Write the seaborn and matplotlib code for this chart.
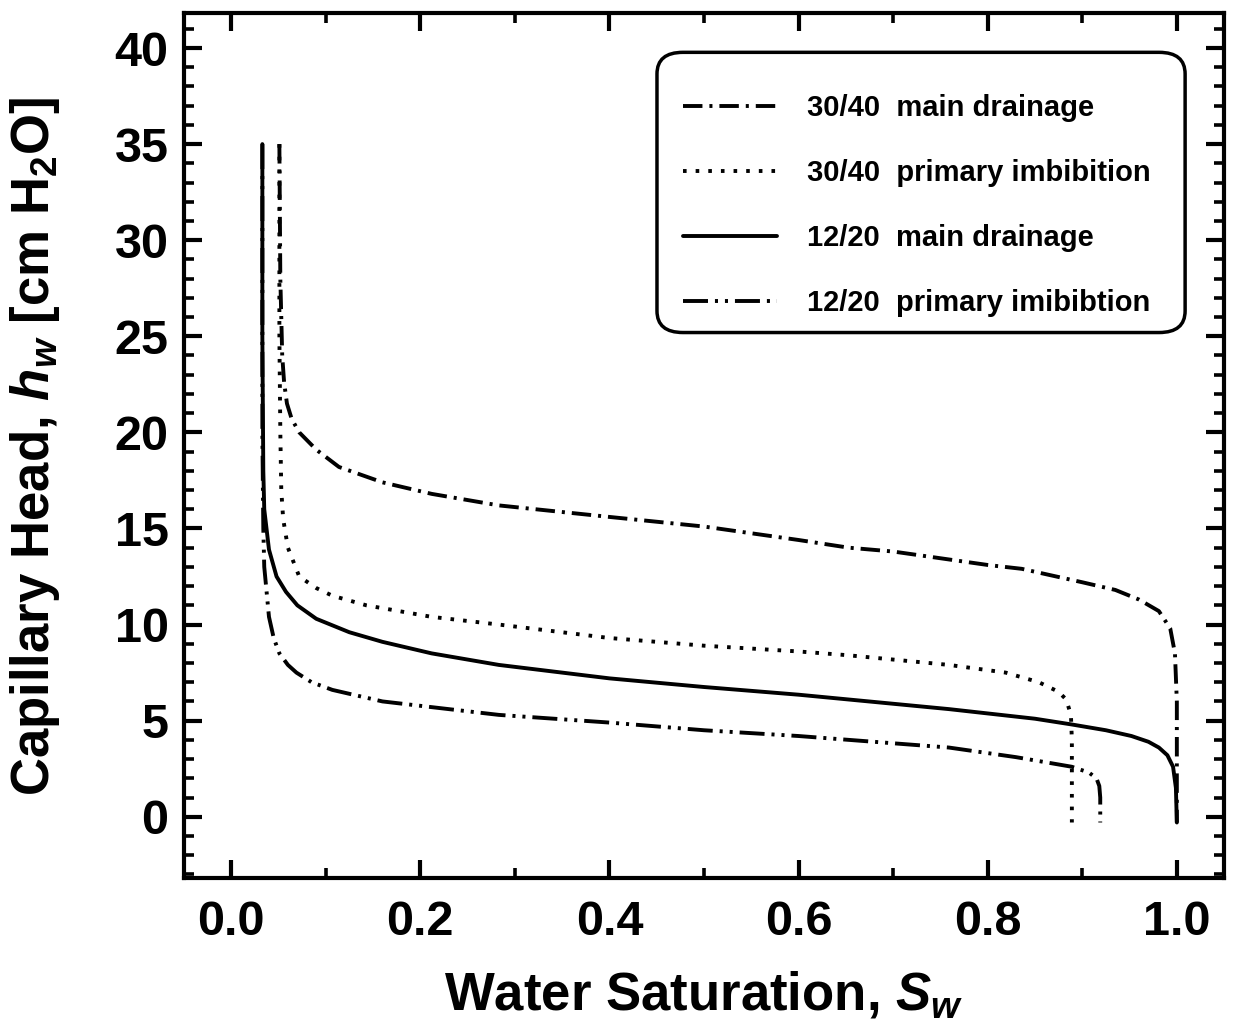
import matplotlib
matplotlib.use("Agg")
import matplotlib.pyplot as plt
from matplotlib.ticker import MultipleLocator, FormatStrFormatter
from matplotlib.patches import FancyBboxPatch
import seaborn as sns

# 30/40 sand, main drainage
sw_3040_drain = [0.051, 0.052, 0.054, 0.056, 0.059, 0.064, 0.072, 0.090, 0.114, 0.160,
                 0.212, 0.283, 0.400, 0.500, 0.600, 0.653, 0.700, 0.800, 0.836, 0.900,
                 0.935, 0.960, 0.981, 0.993, 0.998, 1.000, 1.000]
hw_3040_drain = [35.0, 28.0, 24.0, 22.6, 21.5, 20.7, 20.0, 19.1, 18.2, 17.4,
                 16.8, 16.2, 15.6, 15.1, 14.4, 14.0, 13.8, 13.1, 12.9, 12.2,
                 11.8, 11.3, 10.7, 9.8, 8.5, 6.0, -0.3]

# 30/40 sand, primary imbibition
sw_3040_imb = [0.051, 0.051, 0.052, 0.053, 0.055, 0.060, 0.072, 0.090, 0.107, 0.143,
               0.212, 0.283, 0.400, 0.500, 0.600, 0.653, 0.759, 0.819, 0.854, 0.875,
               0.883, 0.888, 0.889, 0.889]
hw_3040_imb = [35.0, 25.0, 20.0, 17.0, 15.5, 14.0, 12.5, 11.9, 11.5, 11.0,
               10.4, 10.0, 9.3, 8.9, 8.6, 8.4, 7.9, 7.5, 7.0, 6.5,
               6.1, 5.3, 4.0, -0.3]

# 12/20 sand, main drainage
sw_1220_drain = [0.033, 0.033, 0.034, 0.035, 0.040, 0.048, 0.058, 0.070, 0.090, 0.125,
                 0.160, 0.212, 0.283, 0.400, 0.500, 0.600, 0.653, 0.759, 0.850, 0.889,
                 0.925, 0.952, 0.970, 0.981, 0.990, 0.996, 0.999, 1.000]
hw_1220_drain = [35.0, 25.0, 18.0, 16.0, 13.9, 12.5, 11.7, 11.0, 10.3, 9.6,
                 9.1, 8.5, 7.9, 7.2, 6.75, 6.35, 6.1, 5.6, 5.1, 4.8,
                 4.5, 4.2, 3.9, 3.6, 3.2, 2.6, 1.5, -0.3]

# 12/20 sand, primary imbibition
sw_1220_imb = [0.033, 0.033, 0.034, 0.035, 0.040, 0.045, 0.051, 0.060, 0.069, 0.085,
               0.107, 0.160, 0.230, 0.283, 0.400, 0.500, 0.600, 0.653, 0.759, 0.830,
               0.889, 0.907, 0.915, 0.918, 0.919, 0.919]
hw_1220_imb = [35.0, 20.0, 15.0, 13.0, 10.4, 9.3, 8.5, 7.9, 7.5, 7.0,
               6.6, 6.0, 5.6, 5.3, 4.9, 4.5, 4.2, 4.0, 3.6, 3.1,
               2.6, 2.3, 2.0, 1.6, 1.0, -0.3]

legend_labels = ["30/40  main drainage", "30/40  primary imbibition",
                 "12/20  main drainage", "12/20  primary imibibtion"]

x_ticks = [0.0, 0.2, 0.4, 0.6, 0.8, 1.0]
y_ticks = [0, 5, 10, 15, 20, 25, 30, 35, 40]

sns.set_style("ticks")
plt.rcParams["font.family"] = ["Liberation Sans", "DejaVu Sans"]
plt.rcParams["font.weight"] = "bold"
plt.rcParams["mathtext.fontset"] = "custom"
plt.rcParams["mathtext.rm"] = "Liberation Sans:bold"
plt.rcParams["mathtext.it"] = "Liberation Sans:bold:italic"
plt.rcParams["mathtext.bf"] = "Liberation Sans:bold"
plt.rcParams["lines.scale_dashes"] = False
for key in ["text.color", "axes.labelcolor", "xtick.color", "ytick.color", "axes.edgecolor"]:
    plt.rcParams[key] = "black"

fig = plt.figure(figsize=(12.34, 10.32), dpi=100)
ax = fig.add_axes([0.149, 0.149, 0.843, 0.838])

lw = 2.8
styles = [
    (0, (14, 5, 2.2, 5)),                 # dash-dot
    (0, (2.6, 6.5)),                      # dotted
    "-",                                  # solid
    (0, (18, 5, 2.2, 5, 2.2, 5)),         # dash-dot-dot
]
series = [
    (sw_3040_drain, hw_3040_drain),
    (sw_3040_imb, hw_3040_imb),
    (sw_1220_drain, hw_1220_drain),
    (sw_1220_imb, hw_1220_imb),
]
for (xs, ys), ls, lab in zip(series, styles, legend_labels):
    sns.lineplot(x=xs, y=ys, sort=False, estimator=None, ax=ax, color="black",
                 linewidth=lw, linestyle=ls, label=lab)

ax.set_xlim(-0.05, 1.05)
ax.set_ylim(-3.2, 41.8)
ax.set_xticks(x_ticks)
ax.set_yticks(y_ticks)
ax.xaxis.set_major_formatter(FormatStrFormatter("%.1f"))
ax.xaxis.set_minor_locator(MultipleLocator(0.1))
ax.yaxis.set_minor_locator(MultipleLocator(1))

ax.tick_params(which="both", direction="in", top=True, right=True, color="black")
ax.tick_params(which="major", length=13, width=3, labelsize=35)
ax.tick_params(which="minor", length=7, width=2.6)
ax.tick_params(axis="x", which="major", pad=16)
ax.tick_params(axis="y", which="major", pad=11)
for lab in ax.get_xticklabels() + ax.get_yticklabels():
    lab.set_fontweight("bold")
for sp in ax.spines.values():
    sp.set_linewidth(3)
    sp.set_visible(True)
    sp.set_color("black")

ax.set_xlabel("Water Saturation, $S_w$", fontsize=38, fontweight="bold", labelpad=17)
ax.set_ylabel("Capillary Head, $h_w$ [cm H$_2$O]", fontsize=38, fontweight="bold", labelpad=38)

# rounded legend frame
box = FancyBboxPatch((0.4548, 0.631), 0.5077, 0.324, transform=ax.transAxes,
                     boxstyle="round,pad=0,rounding_size=0.025",
                     facecolor="white", edgecolor="black", linewidth=2.5, zorder=4)
ax.add_patch(box)

leg = ax.legend(loc="upper left", bbox_to_anchor=(0.480, 0.907), borderaxespad=0,
                frameon=False, handlelength=3.2, handletextpad=1.05,
                labelspacing=1.27, borderpad=0,
                prop={"family": "Liberation Sans", "weight": "bold", "size": 21})
leg.set_zorder(5)
for line in leg.get_lines():
    line.set_linewidth(lw)

fig.savefig("out.png", dpi=100, facecolor="white")
